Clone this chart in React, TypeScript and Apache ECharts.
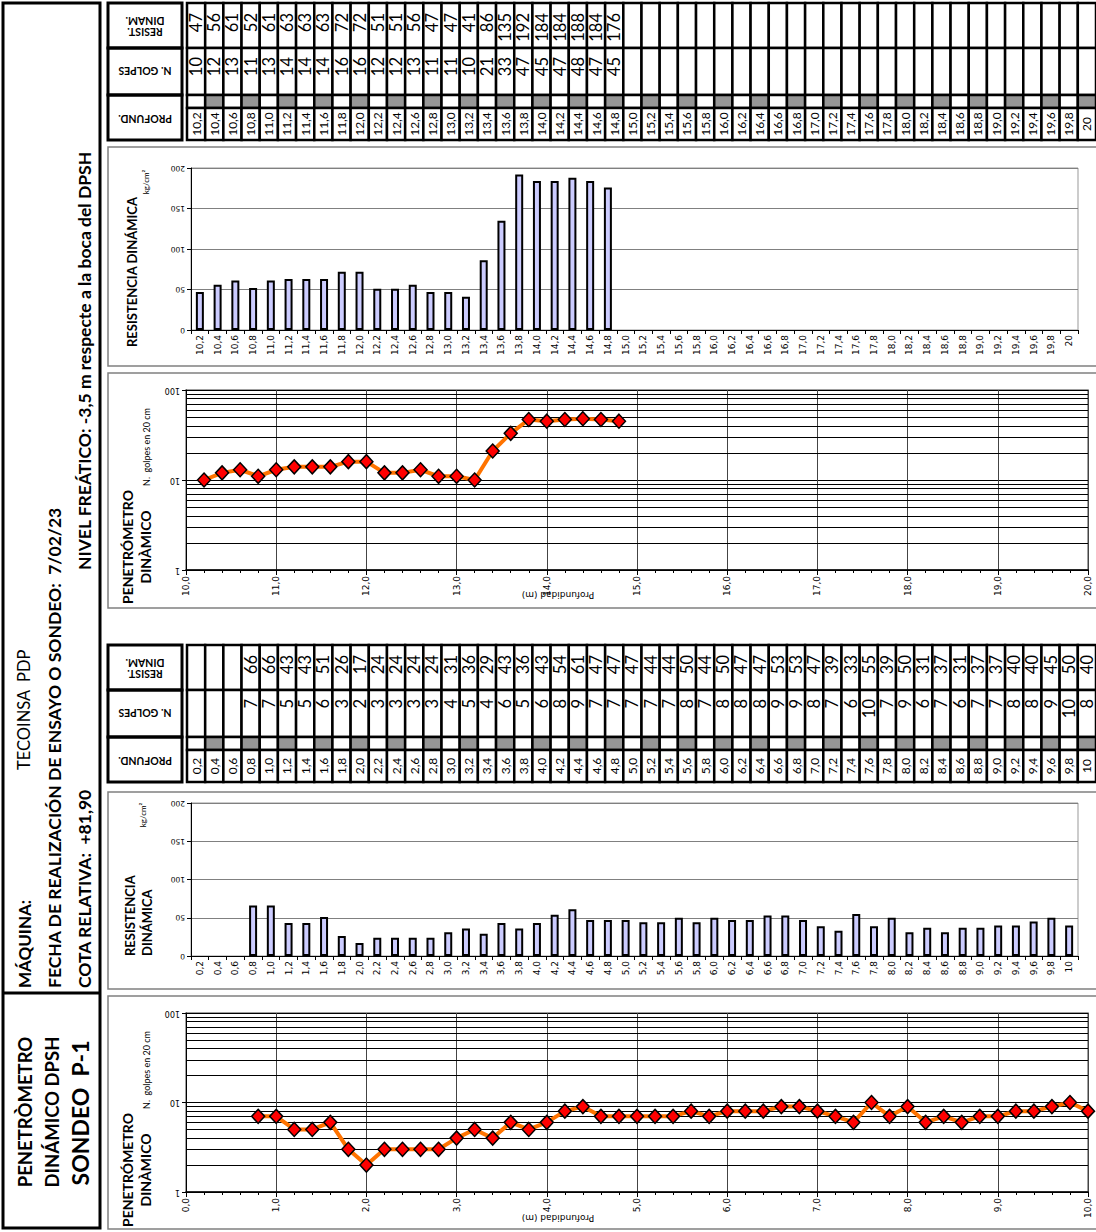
import React, { useEffect, useRef } from "react";
import * as echarts from "echarts";

// ---------- DATA ----------
const depthTop = ["10,2","10,4","10,6","10,8","11,0","11,2","11,4","11,6","11,8","12,0","12,2","12,4","12,6","12,8","13,0","13,2","13,4","13,6","13,8","14,0","14,2","14,4","14,6","14,8","15,0","15,2","15,4","15,6","15,8","16,0","16,2","16,4","16,6","16,8","17,0","17,2","17,4","17,6","17,8","18,0","18,2","18,4","18,6","18,8","19,0","19,2","19,4","19,6","19,8","20"];
const golpesTop = [10,12,13,11,13,14,14,14,16,16,12,12,13,11,11,10,21,33,47,45,47,48,47,45];
const resistTop = [47,56,61,52,61,63,63,63,72,72,51,51,56,47,47,41,86,135,192,184,184,188,184,176];

const depthBottom = ["0,2","0,4","0,6","0,8","1,0","1,2","1,4","1,6","1,8","2,0","2,2","2,4","2,6","2,8","3,0","3,2","3,4","3,6","3,8","4,0","4,2","4,4","4,6","4,8","5,0","5,2","5,4","5,6","5,8","6,0","6,2","6,4","6,6","6,8","7,0","7,2","7,4","7,6","7,8","8,0","8,2","8,4","8,6","8,8","9,0","9,2","9,4","9,6","9,8","10"];
const golpesBottom = [null,null,null,7,7,5,5,6,3,2,3,3,3,3,4,5,4,6,5,6,8,9,7,7,7,7,7,8,7,8,8,8,9,9,8,7,6,10,7,9,6,7,6,7,7,8,8,9,10,8];
const resistBottom = [null,null,null,66,66,43,43,51,26,17,24,24,24,24,31,36,29,43,36,43,54,61,47,47,47,44,44,50,44,50,47,47,53,53,47,39,33,55,39,50,31,37,31,37,37,40,40,45,50,40];

const logGridValues = [2,3,4,5,6,7,8,9,20,30,40,50,60,70,80,90];

const titleLines = ["PENETRÒMETRO", "DINÁMICO DPSH", "SONDEO  P-1"];
const maquina = "MÁQUINA:";
const maquinaValue = "TECOINSA  PDP";
const fecha = "FECHA DE REALIZACIÓN DE ENSAYO O SONDEO:  7/02/23";
const cota = "COTA RELATIVA:  +81,90";
const nivel = "NIVEL FREÁTICO: -3,5 m respecte a la boca del DPSH";

// ---------- STYLE ----------
const FONT = "Lato, 'Open Sans', sans-serif";
const AXF = "'DejaVu Sans', Verdana, sans-serif";
const ROWS = [0, 45, 92, 105, 137];
const R90 = Math.PI / 2;

const toNum = (s: string) => parseFloat(s.replace(",", "."));

function makeTableRender(labels: string[], golpes: (number | null)[], resist: (number | null)[]) {
  return function (params: any, api: any) {
    const i = params.dataIndex;
    const c = api.coord([i, 0]);
    const w = api.size([1, 0])[0];
    const x0 = c[0] - w / 2;
    const ys = ROWS.map((r) => api.coord([i, r])[1]);
    const rect = (a: number, b: number, fill: string) => ({
      type: "rect",
      shape: { x: x0, y: ys[a], width: w, height: ys[b] - ys[a] },
      style: { fill, stroke: "#000", lineWidth: 2.5 },
    });
    const text = (s: string, x: number, y: number, size: number, align: string) => ({
      type: "text",
      x,
      y,
      rotation: R90,
      style: { text: s, fill: "#000", font: `${size}px ${FONT}`, align, verticalAlign: "middle", textAlign: align, textVerticalAlign: "middle" },
    });
    const kids: any[] = [
      rect(0, 1, "#fff"),
      rect(1, 2, "#fff"),
      rect(2, 3, i % 2 ? "#969696" : "#fff"),
      rect(3, 4, "#fff"),
    ];
    const r = resist[i];
    const g = golpes[i];
    if (r != null) kids.push(text(String(r), c[0], ys[0] + 10, 16.5, "right"));
    if (g != null) kids.push(text(String(g), c[0], ys[1] + 9, 16.5, "right"));
    kids.push(text(labels[i], c[0], (ys[3] + ys[4]) / 2, 12, "center"));
    return { type: "group", children: kids };
  };
}

function rotText(text: string, x: number, y: number, font: string, align: string, rotation = R90) {
  return {
    type: "text",
    x,
    y,
    rotation,
    style: { text, font, fill: "#000", align, verticalAlign: "middle", textAlign: align, textVerticalAlign: "middle" },
  };
}

function boxRect(x: number, y: number, w: number, h: number, stroke: string, lw: number) {
  return { type: "rect", shape: { x, y, width: w, height: h }, style: { fill: "none", stroke, lineWidth: lw } };
}

function headerGraphics(dy: number) {
  const cx = 145;
  return [
    boxRect(108, 3 + dy, 74, 45, "#000", 3),
    boxRect(108, 48 + dy, 74, 47, "#000", 3),
    boxRect(108, 95 + dy, 74, 45, "#000", 3),
    rotText("RESIST.\nDINAM.", cx, 26 + dy, `bold 10.5px ${FONT}`, "center", Math.PI),
    rotText("N. GOLPES", cx, 71 + dy, `bold 10.5px ${FONT}`, "center", Math.PI),
    rotText("PROFUND.", cx, 119 + dy, `bold 10.5px ${FONT}`, "center", Math.PI),
  ];
}

function lineData(labels: string[], golpes: (number | null)[]) {
  const out: number[][] = [];
  labels.forEach((l, i) => {
    const g = golpes[i];
    if (g != null) out.push([toNum(l), g]);
  });
  return out;
}

function catAxis(grid: number, labels: string[], show: boolean) {
  return {
    type: "category",
    gridIndex: grid,
    data: labels,
    show,
    boundaryGap: true,
    axisLine: { show: true, lineStyle: { color: "#000", width: 1 } },
    axisTick: { show: true, alignWithLabel: false, interval: 0, length: 4, lineStyle: { color: "#000" } },
    axisLabel: { interval: 0, rotate: 90, fontSize: 9, fontFamily: AXF, color: "#000", margin: 5 },
    splitLine: { show: false },
  };
}

function resistAxis(grid: number) {
  return {
    type: "value",
    gridIndex: grid,
    min: 0,
    max: 200,
    interval: 50,
    axisLine: { show: true, lineStyle: { color: "#000", width: 1 } },
    axisTick: { show: true, length: 4, lineStyle: { color: "#000" } },
    axisLabel: { rotate: 180, fontSize: 7.5, fontFamily: AXF, color: "#000", margin: 6 },
    splitLine: { show: true, lineStyle: { color: "#808080", width: 1 } },
  };
}

function depthAxis(grid: number, min: number, max: number) {
  return {
    type: "value",
    gridIndex: grid,
    min,
    max,
    interval: 1,
    axisLine: { show: true, onZero: false, lineStyle: { color: "#000", width: 1.5 } },
    axisTick: { show: true, length: 5, lineStyle: { color: "#000" } },
    minorTick: { show: true, splitNumber: 5, length: 3, lineStyle: { color: "#000" } },
    axisLabel: {
      rotate: 90,
      fontSize: 9,
      fontFamily: AXF,
      color: "#000",
      margin: 6,
      formatter: (v: number) => v.toFixed(1).replace(".", ","),
    },
    splitLine: { show: true, lineStyle: { color: "#444", width: 1 } },
  };
}

function logAxis(grid: number) {
  return {
    type: "log",
    gridIndex: grid,
    min: 1,
    max: 100,
    logBase: 10,
    axisLine: { show: true, lineStyle: { color: "#000", width: 1 } },
    axisTick: { show: true, length: 4, lineStyle: { color: "#000" } },
    axisLabel: { rotate: 180, fontSize: 8, fontFamily: AXF, color: "#000", margin: 6 },
    splitLine: { show: true, lineStyle: { color: "#000", width: 1 } },
  };
}

function hiddenCat(grid: number, labels: string[]) {
  return { type: "category", gridIndex: grid, data: labels, show: false, boundaryGap: true };
}
function hiddenTableY(grid: number) {
  return { type: "value", gridIndex: grid, min: 0, max: 137, inverse: true, show: false };
}

function barSeries(axis: number, values: (number | null)[]) {
  return {
    type: "bar",
    xAxisIndex: axis,
    yAxisIndex: axis,
    data: values,
    barWidth: 8,
    itemStyle: { color: "#ccccff", borderColor: "#000", borderWidth: 2 },
    silent: true,
  };
}

function gridLineSeries(axis: number) {
  return {
    type: "line",
    xAxisIndex: axis,
    yAxisIndex: axis,
    data: [],
    z: 1,
    silent: true,
    markLine: {
      silent: true,
      symbol: ["none", "none"],
      label: { show: false },
      lineStyle: { color: "#000", width: 1, type: "solid" },
      data: logGridValues.map((v) => ({ yAxis: v })),
    },
  };
}

function golpesSeries(axis: number, data: number[][]) {
  return {
    type: "line",
    xAxisIndex: axis,
    yAxisIndex: axis,
    data,
    z: 5,
    symbol: "diamond",
    symbolSize: [13, 14],
    lineStyle: { color: "#ff7300", width: 4 },
    itemStyle: { color: "#ff0000", borderColor: "#000", borderWidth: 1.5 },
    silent: true,
  };
}

function tableSeries(axis: number, labels: string[], golpes: (number | null)[], resist: (number | null)[]) {
  return {
    type: "custom",
    xAxisIndex: axis,
    yAxisIndex: axis,
    data: labels.map((_, i) => [i, 0]),
    encode: { x: 0, y: 1 },
    renderItem: makeTableRender(labels, golpes, resist),
    silent: true,
    clip: false,
  };
}

function chartTitles(topPanel: boolean) {
  const els: any[] = [];
  if (topPanel) {
    els.push(rotText("RESISTENCIA DINÁMICA", 132, 272, `bold 13px ${FONT}`, "center"));
    els.push(rotText("kg/cm²", 146, 182, `8px ${FONT}`, "center"));
  } else {
    els.push(rotText("RESISTENCIA", 130, 956, `bold 13px ${FONT}`, "left"));
    els.push(rotText("DINÁMICA", 147, 956, `bold 13px ${FONT}`, "left"));
    els.push(rotText("kg/cm²", 143, 815, `8px ${FONT}`, "center"));
  }
  const ly = topPanel ? 547 : 1170;
  els.push(rotText("PENETRÓMETRO", 127, ly, `bold 14px ${FONT}`, "center"));
  els.push(rotText("DINÀMICO", 145, ly, `bold 14px ${FONT}`, "center"));
  els.push(rotText("N.  golpes en 20 cm", 146, ly - 100, `9px ${FONT}`, "center"));
  els.push(rotText("Profundidad (m)", 558, topPanel ? 595 : 1218, `9px ${AXF}`, "center", Math.PI));
  return els;
}

export default function App() {
  const ref = useRef<HTMLDivElement>(null);

  useEffect(() => {
    if (!ref.current) return;
    const chart = echarts.init(ref.current, undefined, { renderer: "svg" });

    const graphics: any[] = [
      boxRect(3, 3, 97, 1225, "#000", 3),
      { type: "line", shape: { x1: 3, y1: 993, x2: 100, y2: 993 }, style: { stroke: "#000", lineWidth: 3 } },
      rotText(titleLines[0], 25, 1112, `bold 18.5px ${FONT}`, "center"),
      rotText(titleLines[1], 52, 1112, `bold 18.5px ${FONT}`, "center"),
      rotText(titleLines[2], 80, 1113, `bold 23px ${FONT}`, "center"),
      rotText(maquina, 24, 988, `bold 17px ${FONT}`, "left"),
      rotText(maquinaValue, 24, 770, `16.5px ${FONT}`, "left"),
      rotText(fecha, 54, 988, `bold 17.5px ${FONT}`, "left"),
      rotText(cota, 84, 988, `bold 17.5px ${FONT}`, "left"),
      rotText(nivel, 84, 570, `bold 17.5px ${FONT}`, "left"),
      ...headerGraphics(0),
      ...headerGraphics(642),
      boxRect(108, 147, 1000, 219, "#808080", 1.5),
      boxRect(108, 373, 1000, 235, "#808080", 1.5),
      boxRect(108, 792, 1000, 197, "#808080", 1.5),
      boxRect(108, 996, 1000, 233, "#808080", 1.5),
      ...chartTitles(true),
      ...chartTitles(false),
    ];

    chart.setOption({
      animation: false,
      graphic: { elements: graphics },
      grid: [
        { left: 187, top: 3, width: 910, height: 137 },
        { left: 191, top: 168, width: 887, height: 162, show: true, borderColor: "#999", borderWidth: 1 },
        { left: 186, top: 390, width: 902, height: 180, show: true, borderColor: "#808080", borderWidth: 1.5 },
        { left: 187, top: 645, width: 910, height: 137 },
        { left: 191, top: 803, width: 887, height: 153, show: true, borderColor: "#999", borderWidth: 1 },
        { left: 186, top: 1013, width: 902, height: 179, show: true, borderColor: "#808080", borderWidth: 1.5 },
      ],
      xAxis: [
        hiddenCat(0, depthTop),
        catAxis(1, depthTop, true),
        depthAxis(2, 10, 20),
        hiddenCat(3, depthBottom),
        catAxis(4, depthBottom, true),
        depthAxis(5, 0, 10),
      ],
      yAxis: [
        hiddenTableY(0),
        resistAxis(1),
        logAxis(2),
        hiddenTableY(3),
        resistAxis(4),
        logAxis(5),
      ],
      series: [
        tableSeries(0, depthTop, golpesTop, resistTop),
        barSeries(1, resistTop),
        gridLineSeries(2),
        golpesSeries(2, lineData(depthTop, golpesTop)),
        tableSeries(3, depthBottom, golpesBottom, resistBottom),
        barSeries(4, resistBottom),
        gridLineSeries(5),
        golpesSeries(5, lineData(depthBottom, golpesBottom)),
      ],
    });

    return () => chart.dispose();
  }, []);

  return (
    <div
      ref={ref}
      style={{ position: "absolute", left: 0, top: 0, width: 1096, height: 1232, background: "#fff" }}
    />
  );
}
